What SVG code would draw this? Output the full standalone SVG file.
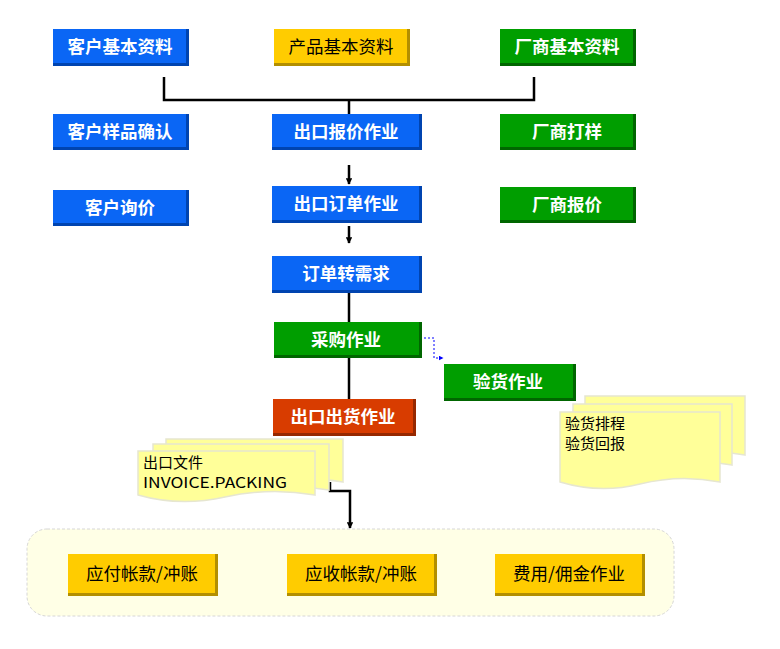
<svg xmlns="http://www.w3.org/2000/svg" width="780" height="649" viewBox="0 0 780 649">
<defs>
<style>
.t{font-family:"Noto Sans CJK SC","Liberation Sans",sans-serif;font-size:17.5px;text-anchor:middle;}
.w{fill:#fff;font-weight:bold;}
.k{fill:#000;}
.n{font-family:"Noto Sans CJK SC","Liberation Sans",sans-serif;font-size:15px;fill:#000;}
.ln{fill:none;stroke:#000;stroke-width:2.5;}
.note{fill:#FFFF99;stroke:#E6E6D0;stroke-width:1.5;}
</style>
<marker id="ah" viewBox="0 0 10 10" refX="9" refY="5" markerWidth="2.6" markerHeight="2.6" orient="auto"><path d="M0,0L10,5L0,10z" fill="#000"/></marker>
<marker id="bh" viewBox="0 0 10 10" refX="9" refY="5" markerWidth="5" markerHeight="5" orient="auto"><path d="M0,0L10,5L0,10z" fill="#0000FF"/></marker>
</defs>
<rect width="780" height="649" fill="#fff"/>

<g id="container">
<rect x="27" y="529" width="647" height="87" rx="20" fill="#FFFFE6" stroke="#D6D6D6" stroke-dasharray="3,2"/>
</g>

<g id="connectors">
<polyline class="ln" points="164,77 164,100 534,100 534,77"/>
<line class="ln" x1="349" y1="100" x2="349" y2="114"/>
<line class="ln" x1="349" y1="165" x2="349" y2="184" marker-end="url(#ah)"/>
<line class="ln" x1="349" y1="226" x2="349" y2="243" marker-end="url(#ah)"/>
<line class="ln" x1="349" y1="292" x2="349" y2="322"/>
<line class="ln" x1="349" y1="357" x2="349" y2="399"/>
<polyline class="ln" points="330,482 330,491 350,491 350,528" marker-end="url(#ah)"/>
<polyline points="424,338 434,338 434,358 443,358" fill="none" stroke="#0000FF" stroke-width="1" stroke-dasharray="2,2" marker-end="url(#bh)"/>
</g>

<g id="n1"><rect x="53" y="29" width="136" height="37" fill="#0044B0"/><rect x="53" y="29" width="133" height="34" fill="#0A66F5"/><text class="t w" x="120" y="53">客户基本资料</text></g>
<g id="n2"><rect x="274" y="29" width="136" height="37" fill="#B38F00"/><rect x="274" y="29" width="133" height="34" fill="#FFCC00"/><text class="t k" x="341" y="53">产品基本资料</text></g>
<g id="n3"><rect x="500" y="29" width="136" height="37" fill="#006600"/><rect x="500" y="29" width="133" height="34" fill="#009E00"/><text class="t w" x="567" y="53">厂商基本资料</text></g>

<g id="n4"><rect x="53" y="114" width="136" height="36" fill="#0044B0"/><rect x="53" y="114" width="133" height="33" fill="#0A66F5"/><text class="t w" x="120" y="138">客户样品确认</text></g>
<g id="n5"><rect x="272" y="114" width="150" height="36" fill="#0044B0"/><rect x="272" y="114" width="147" height="33" fill="#0A66F5"/><text class="t w" x="346" y="138">出口报价作业</text></g>
<g id="n6"><rect x="500" y="114" width="136" height="36" fill="#006600"/><rect x="500" y="114" width="133" height="33" fill="#009E00"/><text class="t w" x="567" y="138">厂商打样</text></g>

<g id="n7"><rect x="53" y="190" width="136" height="36" fill="#0044B0"/><rect x="53" y="190" width="133" height="33" fill="#0A66F5"/><text class="t w" x="120" y="214">客户询价</text></g>
<g id="n8"><rect x="272" y="186" width="150" height="37" fill="#0044B0"/><rect x="272" y="186" width="147" height="34" fill="#0A66F5"/><text class="t w" x="346" y="210">出口订单作业</text></g>
<g id="n9"><rect x="500" y="187" width="136" height="36" fill="#006600"/><rect x="500" y="187" width="133" height="33" fill="#009E00"/><text class="t w" x="567" y="211">厂商报价</text></g>

<g id="n10"><rect x="272" y="256" width="150" height="37" fill="#0044B0"/><rect x="272" y="256" width="147" height="34" fill="#0A66F5"/><text class="t w" x="346" y="280">订单转需求</text></g>
<g id="n11"><rect x="274" y="322" width="148" height="36" fill="#006600"/><rect x="274" y="322" width="145" height="33" fill="#009E00"/><text class="t w" x="346" y="346">采购作业</text></g>
<g id="n12"><rect x="444" y="364" width="132" height="37" fill="#006600"/><rect x="444" y="364" width="129" height="34" fill="#009E00"/><text class="t w" x="508" y="388">验货作业</text></g>
<g id="n13"><rect x="273" y="399" width="143" height="37" fill="#962800"/><rect x="273" y="399" width="140" height="34" fill="#D83C00"/><text class="t w" x="343" y="423">出口出货作业</text></g>

<g id="note1">
<path class="note" d="M166,439 H343 V482 Q300,474 255,484 T166,482 Z"/>
<path class="note" d="M153,444 H329 V490 Q285,482 240,492 T153,490 Z"/>
<path class="note" d="M138,451 H315 V495 Q270,487 225,497 T138,495 Z"/>
<text class="n" x="143" y="468">出口文件</text>
<text class="n" x="143" y="488" textLength="144" lengthAdjust="spacingAndGlyphs">INVOICE.PACKING</text>
</g>

<g id="note2">
<path class="note" d="M585,396 H745 V455 Q705,447 665,457 T585,455 Z"/>
<path class="note" d="M573,404 H732 V465 Q692,457 652,467 T573,465 Z"/>
<path class="note" d="M560,412 H720 V482 Q680,474 640,484 T560,482 Z"/>
<text class="n" x="565" y="429" font-size="16">验货排程</text>
<text class="n" x="565" y="449" font-size="16">验货回报</text>
</g>

<g id="n14"><rect x="68" y="554" width="150" height="42" fill="#B38F00"/><rect x="68" y="554" width="147" height="39" fill="#FFCC00"/><text class="t k" x="142" y="580">应付帐款/冲账</text></g>
<g id="n15"><rect x="287" y="554" width="150" height="42" fill="#B38F00"/><rect x="287" y="554" width="147" height="39" fill="#FFCC00"/><text class="t k" x="361" y="580">应收帐款/冲账</text></g>
<g id="n16"><rect x="495" y="554" width="150" height="42" fill="#B38F00"/><rect x="495" y="554" width="147" height="39" fill="#FFCC00"/><text class="t k" x="569" y="580">费用/佣金作业</text></g>
</svg>
